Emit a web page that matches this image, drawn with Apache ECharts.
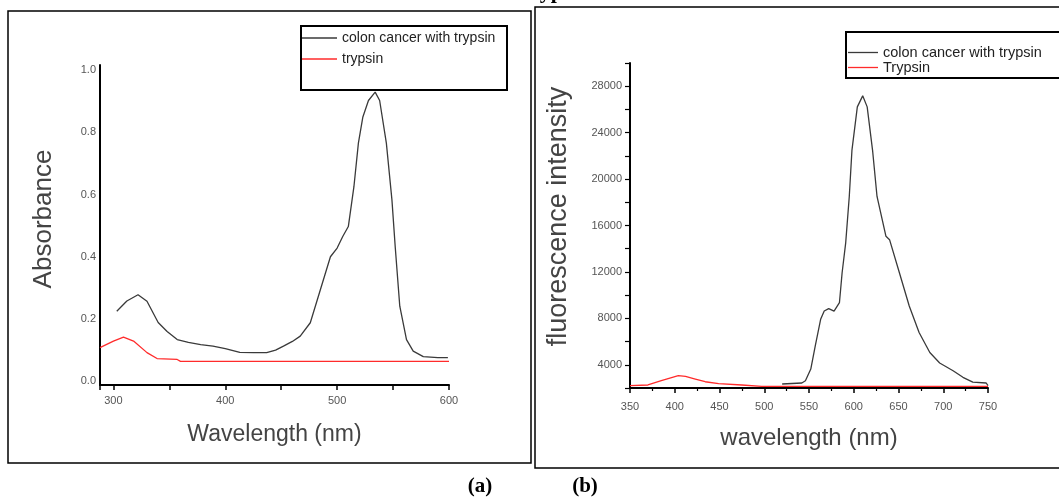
<!DOCTYPE html>
<html>
<head>
<meta charset="utf-8">
<script src="https://cdn.jsdelivr.net/npm/echarts@6/dist/echarts.min.js"></script>
<style>
  html, body { margin: 0; padding: 0; background: #fff; }
  #main { width: 1059px; height: 499px; }
</style>
</head>
<body>
<div id="main"></div>
<script>
// (a) absorbance spectra
var absCancerWl  = [303, 312, 322, 330, 340, 348, 357, 367, 378, 389, 400, 413, 425, 437, 445, 452, 460, 467, 476, 485, 494, 500, 505, 510, 515, 519, 523, 528, 534, 538, 544, 549, 552, 556, 562, 568, 577, 590, 599];
var absCancer    = [0.225, 0.258, 0.278, 0.257, 0.189, 0.160, 0.134, 0.125, 0.118, 0.113, 0.105, 0.093, 0.092, 0.092, 0.100, 0.113, 0.128, 0.145, 0.188, 0.294, 0.400, 0.428, 0.465, 0.497, 0.625, 0.765, 0.849, 0.902, 0.929, 0.902, 0.765, 0.582, 0.428, 0.241, 0.134, 0.097, 0.079, 0.076, 0.076];
var absTrypsinWl = [288, 300, 309, 318, 330, 339, 357, 360, 600];
var absTrypsin   = [0.108, 0.129, 0.142, 0.129, 0.092, 0.073, 0.070, 0.064, 0.064];

// (b) fluorescence spectra
var flCancerWl  = [520, 542, 546, 552, 557, 563, 567, 572, 578, 584, 587, 591, 595, 598, 604, 610, 615, 621, 626, 636, 640, 651, 662, 673, 685, 696, 711, 722, 733, 748, 750];
var flCancer    = [2344, 2430, 2627, 3630, 5630, 7920, 8630, 8840, 8630, 9350, 11930, 14500, 18500, 22500, 26220, 27170, 26220, 22500, 18500, 15070, 14780, 11930, 9060, 6780, 5060, 4150, 3490, 2920, 2500, 2430, 2200];
var flTrypsinWl = [350, 370, 385, 404, 412, 423, 434, 449, 475, 497, 750];
var flTrypsin   = [2200, 2260, 2630, 3060, 3000, 2770, 2540, 2370, 2260, 2140, 2140];

var legendA = ['colon cancer with trypsin', 'trypsin'];
var legendB = ['colon cancer with trypsin', 'Trypsin'];

var FONT = '"Liberation Sans", Arial, sans-serif';
var SERIF = '"Liberation Serif", "Times New Roman", serif';

function pairs(xs, ys) {
    var out = [];
    for (var i = 0; i < xs.length; i++) out.push([xs[i], ys[i]]);
    return out;
}

function lineSeries(name, xi, xs, ys, color) {
    return {
        name: name,
        type: 'line',
        xAxisIndex: xi,
        yAxisIndex: xi,
        symbol: 'none',
        smooth: false,
        lineStyle: { color: color, width: 1.3 },
        itemStyle: { color: color },
        data: pairs(xs, ys)
    };
}

var axisLine = { show: true, onZero: false, lineStyle: { color: '#000', width: 2 } };

var chart = echarts.init(document.getElementById('main'));
chart.setOption({
    backgroundColor: '#fff',
    animation: false,
    legend: [{
        left: 302, top: 31, orient: 'vertical', icon: 'rect',
        itemWidth: 35, itemHeight: 1.3, itemGap: 7, itemTextGap: 3,
        padding: 0, selectedMode: false,
        data: legendA,
        textStyle: { fontFamily: FONT, fontSize: 14, color: '#222' }
    }, {
        left: 848, top: 45, orient: 'vertical', icon: 'rect',
        itemWidth: 30, itemHeight: 1.3, itemGap: 0, itemTextGap: 7,
        padding: 0, selectedMode: false,
        data: legendB,
        textStyle: { fontFamily: FONT, fontSize: 14.5, color: '#222' }
    }],
    grid: [
        { left: 100, top: 65, width: 349, height: 320 },
        { left: 630, top: 63, width: 358, height: 325 }
    ],
    xAxis: [{
        type: 'value', gridIndex: 0, min: 288, max: 600, splitNumber: 6,
        axisLine: axisLine,
        axisTick: { show: true, inside: false, length: 5, lineStyle: { color: '#000', width: 1.5 } },
        splitLine: { show: false },
        axisLabel: {
            fontFamily: FONT, fontSize: 11, color: '#555', margin: 10,
            formatter: function (v) { return v % 100 === 0 ? String(v) : ''; }
        },
        name: 'Wavelength (nm)', nameLocation: 'middle', nameGap: 38,
        nameTextStyle: { fontFamily: FONT, fontSize: 23, color: '#444' }
    }, {
        type: 'value', gridIndex: 1, min: 350, max: 750, interval: 50,
        axisLine: axisLine,
        axisTick: { show: true, length: 5, lineStyle: { color: '#000', width: 1.5 } },
        minorTick: { show: true, splitNumber: 2, length: 3, lineStyle: { color: '#000', width: 1.2 } },
        splitLine: { show: false },
        axisLabel: { fontFamily: FONT, fontSize: 11, color: '#555', margin: 13 },
        name: 'wavelength (nm)', nameLocation: 'middle', nameGap: 38,
        nameTextStyle: { fontFamily: FONT, fontSize: 24, color: '#444' }
    }],
    yAxis: [{
        type: 'value', gridIndex: 0, min: -0.012, max: 1.016, splitNumber: 5,
        axisLine: axisLine,
        axisTick: { show: false },
        splitLine: { show: false },
        axisLabel: {
            fontFamily: FONT, fontSize: 11, color: '#555', margin: 4,
            formatter: function (v) {
                return Math.abs(v * 5 - Math.round(v * 5)) < 1e-6 ? v.toFixed(1) : '';
            }
        },
        name: 'Absorbance', nameLocation: 'middle', nameRotate: 90, nameGap: 43,
        nameTextStyle: { fontFamily: FONT, fontSize: 26, color: '#444', padding: [0, 0, 0, 12] }
    }, {
        type: 'value', gridIndex: 1, min: 2000, max: 30000, interval: 2000,
        axisLine: axisLine,
        axisTick: { show: true, length: 5, lineStyle: { color: '#000', width: 1.2 } },
        splitLine: { show: false },
        axisLabel: {
            fontFamily: FONT, fontSize: 11, color: '#555', margin: 8,
            formatter: function (v) { return v % 4000 === 0 ? String(v) : ''; }
        },
        name: 'fluorescence intensity', nameLocation: 'middle', nameRotate: 90, nameGap: 58,
        nameTextStyle: { fontFamily: FONT, fontSize: 27, color: '#444', padding: [0, 0, 0, 18] }
    }],
    series: [
        lineSeries(legendA[0], 0, absCancerWl, absCancer, '#3a3a3a'),
        lineSeries(legendA[1], 0, absTrypsinWl, absTrypsin, '#ff2b2b'),
        lineSeries(legendB[0], 1, flCancerWl, flCancer, '#3a3a3a'),
        lineSeries(legendB[1], 1, flTrypsinWl, flTrypsin, '#ff2b2b')
    ],
    graphic: [
        // panel frames
        { type: 'rect', shape: { x: 8, y: 11, width: 523, height: 452 }, style: { fill: null, stroke: '#000', lineWidth: 1.5 }, silent: true },
        { type: 'rect', shape: { x: 535, y: 7, width: 540, height: 461 }, style: { fill: null, stroke: '#000', lineWidth: 1.5 }, silent: true },
        // legend boxes
        { type: 'rect', shape: { x: 301, y: 26, width: 206, height: 64 }, style: { fill: null, stroke: '#000', lineWidth: 2 }, silent: true },
        { type: 'rect', shape: { x: 846, y: 32, width: 240, height: 46 }, style: { fill: null, stroke: '#000', lineWidth: 2 }, silent: true },
        // clipped caption line at top and panel labels
        { type: 'text', x: 590, y: -8, style: { text: 'UV absorbance and fluorescence of colon cancer and trypsin', font: 'bold 22px ' + SERIF, fill: '#000', align: 'right', verticalAlign: 'middle' }, silent: true },
        { type: 'text', x: 480, y: 487, style: { text: '(a)', font: 'bold 21px ' + SERIF, fill: '#000', align: 'center', verticalAlign: 'middle' }, silent: true },
        { type: 'text', x: 585, y: 487, style: { text: '(b)', font: 'bold 21px ' + SERIF, fill: '#000', align: 'center', verticalAlign: 'middle' }, silent: true }
    ]
});
</script>
</body>
</html>
